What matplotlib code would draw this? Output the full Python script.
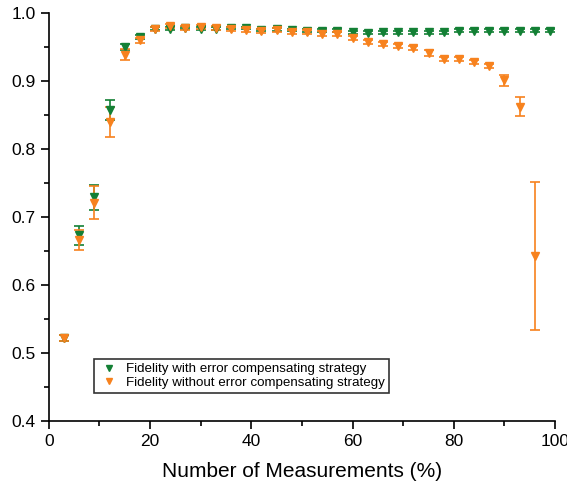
import matplotlib
matplotlib.use("Agg")
import matplotlib.pyplot as plt
from matplotlib.ticker import MultipleLocator

plt.rcParams["font.family"] = ["Liberation Sans", "DejaVu Sans"]

# measured fraction (%)
x_with = [3, 6, 9, 12, 15, 18, 21, 24, 27, 30, 33, 36, 39, 42, 45, 48, 51,
          54, 57, 60, 63, 66, 69, 72, 75, 78, 81, 84, 87, 90, 93, 96, 99]
x_without = [3, 6, 9, 12, 15, 18, 21, 24, 27, 30, 33, 36, 39, 42, 45, 48, 51,
             54, 57, 60, 63, 66, 69, 72, 75, 78, 81, 84, 87, 90, 93, 96]

fid_with = [0.522, 0.673, 0.729, 0.857, 0.950, 0.965, 0.977, 0.977, 0.978,
            0.977, 0.977, 0.978, 0.978, 0.975, 0.976, 0.975, 0.974, 0.974,
            0.974, 0.972, 0.971, 0.972, 0.972, 0.972, 0.972, 0.972, 0.974,
            0.974, 0.974, 0.974, 0.974, 0.974, 0.974]
err_with = [0.004, 0.014, 0.018, 0.015, 0.005, 0.003, 0.002, 0.002, 0.002,
            0.002, 0.002, 0.002, 0.002, 0.002, 0.002, 0.002, 0.002, 0.002,
            0.002, 0.002, 0.002, 0.002, 0.002, 0.002, 0.002, 0.002, 0.002,
            0.002, 0.002, 0.002, 0.002, 0.002, 0.002]

fid_without = [0.522, 0.666, 0.721, 0.840, 0.939, 0.960, 0.977, 0.981, 0.978,
               0.980, 0.978, 0.976, 0.975, 0.974, 0.975, 0.972, 0.972, 0.970,
               0.969, 0.963, 0.957, 0.954, 0.952, 0.948, 0.941, 0.933, 0.933,
               0.928, 0.922, 0.901, 0.862, 0.642]
err_without = [0.004, 0.015, 0.024, 0.022, 0.008, 0.004, 0.003, 0.003, 0.003,
               0.003, 0.003, 0.003, 0.003, 0.003, 0.003, 0.003, 0.003, 0.003,
               0.003, 0.003, 0.003, 0.003, 0.003, 0.003, 0.004, 0.003, 0.003,
               0.003, 0.003, 0.008, 0.014, 0.109]

green = "#138035"
orange = "#f7821e"

fig = plt.figure(figsize=(5.67, 4.86), dpi=100)
ax = fig.add_axes([0.086, 0.134, 0.893, 0.839])

ax.errorbar(x_with, fid_with, yerr=err_with, fmt="v", color=green, ms=6,
            elinewidth=1.2, capsize=3.5, capthick=1.2,
            label="Fidelity with error compensating strategy")
ax.errorbar(x_without, fid_without, yerr=err_without, fmt="v", color=orange,
            ms=6, elinewidth=1.2, capsize=3.5, capthick=1.2,
            label="Fidelity without error compensating strategy")

ax.set_xlim(0, 100)
ax.set_ylim(0.4, 1.0)
ax.xaxis.set_major_locator(MultipleLocator(20))
ax.xaxis.set_minor_locator(MultipleLocator(10))
ax.yaxis.set_major_locator(MultipleLocator(0.1))
ax.yaxis.set_minor_locator(MultipleLocator(0.05))
ax.tick_params(which="major", direction="out", length=6, width=1.2,
               labelsize=12.5)
ax.tick_params(which="minor", direction="out", length=3.5, width=1.2)
ax.spines["top"].set_visible(False)
ax.spines["right"].set_visible(False)
ax.spines["left"].set_linewidth(1.2)
ax.spines["bottom"].set_linewidth(1.2)

ax.set_xlabel("Number of Measurements (%)", fontsize=15, labelpad=9)

handles, labels = ax.get_legend_handles_labels()
handles = [h[0] for h in handles]
leg = ax.legend(handles, labels, loc="lower left",
                bbox_to_anchor=(0.077, 0.052), fontsize=9.6, frameon=True,
                fancybox=False, edgecolor="black", borderpad=0.3,
                handletextpad=0.5, labelspacing=0.1, handlelength=1.6,
                markerscale=0.75)
leg.get_frame().set_linewidth(1.2)

fig.savefig("out.png", dpi=100)
